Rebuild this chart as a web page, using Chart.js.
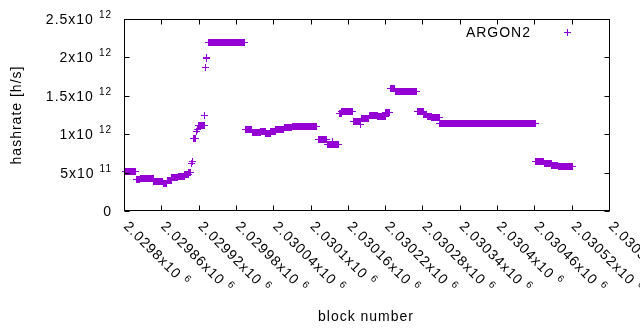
<!DOCTYPE html>
<html>
<head>
<meta charset="utf-8">
<script src="https://cdn.jsdelivr.net/npm/chart.js@4"></script>
<style>
  html, body { margin: 0; padding: 0; background: #fff; }
  #wrap { width: 640px; height: 330px; }
</style>
</head>
<body>
<div id="wrap"><canvas id="chart" width="640" height="330"></canvas></div>
<script>
// Runs of consecutive blocks that share one hashrate value
const runStart = [2029802, 2029820, 2029826, 2029848, 2029864, 2029870, 2029877, 2029887, 2029898, 2029904,
    2029912, 2029920, 2029936, 2029996, 2030006, 2030020, 2030028, 2030036, 2030044, 2030058,
    2030071, 2030112, 2030127, 2030146, 2030150, 2030169, 2030182, 2030195, 2030208, 2030221,
    2030229, 2030236, 2030272, 2030282, 2030288, 2030295, 2030308, 2030462, 2030476, 2030488,
    2030498, 2030508];
const runEnd = [2029818, 2029825, 2029847, 2029862, 2029869, 2029876, 2029886, 2029897, 2029903, 2029907,
    2029915, 2029929, 2029994, 2030005, 2030019, 2030027, 2030035, 2030043, 2030057, 2030070,
    2030110, 2030126, 2030145, 2030149, 2030168, 2030181, 2030194, 2030207, 2030220, 2030227,
    2030235, 2030271, 2030281, 2030287, 2030294, 2030307, 2030461, 2030475, 2030487, 2030497,
    2030507, 2030521];
const runRate = [5.2e11, 4.1e11, 4.25e11, 3.8e11, 3.55e11, 4.0e11, 4.38e11, 4.55e11, 4.8e11, 5.05e11,
    9.47e11, 1.11e12, 2.197e12, 1.06e12, 1.02e12, 1.037e12, 1.01e12, 1.03e12, 1.06e12, 1.09e12,
    1.104e12, 9.35e11, 8.7e11, 1.27e12, 1.295e12, 1.165e12, 1.2e12, 1.245e12, 1.228e12, 1.283e12,
    1.598e12, 1.558e12, 1.298e12, 1.26e12, 1.233e12, 1.218e12, 1.142e12, 6.42e11, 6.15e11, 5.9e11,
    5.73e11, 5.78e11];

// Lone points
const singleBlock = [2029908, 2029910, 2029917, 2029918, 2029930, 2029931, 2029932, 2029933, 2030135, 2030180];
const singleRate = [6.2e11, 6.5e11, 1.03e12, 1.06e12, 1.246e12, 1.87e12, 1.98e12, 2.0e12, 9.1e11, 1.12e12];

// Tick labels (gnuplot style, with superscript exponent)
const xTickValues = [2029800, 2029860, 2029920, 2029980, 2030040, 2030100, 2030160,
    2030220, 2030280, 2030340, 2030400, 2030460, 2030520, 2030580];
const xTickLabels = ['2.0298x10', '2.02986x10', '2.02992x10', '2.02998x10', '2.03004x10', '2.0301x10', '2.03016x10',
    '2.03022x10', '2.03028x10', '2.03034x10', '2.0304x10', '2.03046x10', '2.03052x10', '2.03058x10'];
const xTickExp = '6';
const yTickValues = [0, 5e11, 1e12, 1.5e12, 2e12, 2.5e12];
const yTickLabels = ['0', '5x10', '1x10', '1.5x10', '2x10', '2.5x10'];
const yTickExps = ['', '11', '12', '12', '12', '12'];

const seriesName = 'ARGON2';
const COLOR = '#9400d3';
const FONT = '14px "Liberation Sans", Arial, sans-serif';
const SUP_FONT = '10px "Liberation Sans", Arial, sans-serif';

// Build the per-block points
const points = [];
runStart.forEach((s, i) => {
    for (let b = s; b <= runEnd[i]; b++) points.push({ x: b, y: runRate[i] });
});
singleBlock.forEach((b, i) => points.push({ x: b, y: singleRate[i] }));

// Crisp gnuplot-like "+" marker
const plus = document.createElement('canvas');
plus.width = 7;
plus.height = 7;
const pc = plus.getContext('2d');
pc.fillStyle = COLOR;
pc.fillRect(3, 0, 1, 7);
pc.fillRect(0, 3, 7, 1);

const gnuplotFrame = {
    id: 'gnuplotFrame',
    beforeDatasetsDraw(chart) {
        chart.ctx.imageSmoothingEnabled = false;
    },
    afterDraw(chart) {
        const { ctx, scales: { x, y } } = chart;
        const L = Math.round(x.getPixelForValue(x.min)) + 0.5;
        const R = Math.round(x.getPixelForValue(x.max)) + 0.5;
        const T = Math.round(y.getPixelForValue(y.max)) + 0.5;
        const B = Math.round(y.getPixelForValue(y.min)) - 0.5;
        const tick = 5;

        ctx.save();
        ctx.strokeStyle = '#000';
        ctx.lineWidth = 1;
        ctx.strokeRect(L, T, R - L, B - T);

        ctx.beginPath();
        yTickValues.forEach(v => {
            const py = Math.round(y.getPixelForValue(v)) + 0.5;
            ctx.moveTo(L, py); ctx.lineTo(L + tick, py);
            ctx.moveTo(R, py); ctx.lineTo(R - tick, py);
        });
        xTickValues.forEach(v => {
            const px = Math.round(x.getPixelForValue(v)) + 0.5;
            ctx.moveTo(px, B); ctx.lineTo(px, B - tick);
            ctx.moveTo(px, T); ctx.lineTo(px, T + tick);
        });
        ctx.stroke();

        ctx.fillStyle = '#000';
        ctx.letterSpacing = '1px';
        ctx.textBaseline = 'alphabetic';

        // y tick labels, right aligned
        yTickValues.forEach((v, i) => {
            const py = y.getPixelForValue(v) + 5;
            const right = 112;
            ctx.font = SUP_FONT;
            const supW = yTickExps[i] ? ctx.measureText(yTickExps[i]).width : 0;
            ctx.font = FONT;
            const mainW = ctx.measureText(yTickLabels[i]).width;
            const gap = yTickExps[i] ? 5 : 0;
            const start = right - supW - gap - mainW;
            ctx.textAlign = 'left';
            ctx.fillText(yTickLabels[i], start, py);
            if (yTickExps[i]) {
                ctx.font = SUP_FONT;
                ctx.fillText(yTickExps[i], start + mainW + gap, py - 6);
            }
        });

        // x tick labels, rotated 45 degrees
        xTickValues.forEach((v, i) => {
            const px = x.getPixelForValue(v);
            ctx.save();
            ctx.translate(px - 1, 227);
            ctx.rotate(Math.PI / 4);
            ctx.font = FONT;
            ctx.textAlign = 'left';
            ctx.fillText(xTickLabels[i], 0, 0);
            const w = ctx.measureText(xTickLabels[i]).width;
            ctx.font = SUP_FONT;
            ctx.fillText(xTickExp, w + 5, -6);
            ctx.restore();
        });

        // axis titles
        ctx.font = FONT;
        ctx.textAlign = 'center';
        ctx.fillText('block number', 366, 321);
        ctx.save();
        ctx.translate(17, 115);
        ctx.rotate(-Math.PI / 2);
        ctx.textBaseline = 'middle';
        ctx.fillText('hashrate [h/s]', 0, 0);
        ctx.restore();

        // key
        ctx.textAlign = 'right';
        ctx.textBaseline = 'alphabetic';
        ctx.fillText(seriesName, 531, 37);
        ctx.imageSmoothingEnabled = false;
        ctx.drawImage(plus, 564, 29);
        ctx.restore();
    }
};

const chart = new Chart(document.getElementById('chart'), {
    type: 'scatter',
    data: {
        datasets: [{
            label: seriesName,
            data: points,
            pointStyle: plus,
            pointRadius: 3.5,
            borderColor: COLOR,
            backgroundColor: COLOR,
            clip: false
        }]
    },
    options: {
        responsive: false,
        animation: false,
        devicePixelRatio: 1,
        layout: { padding: { top: 19, right: 31, left: 0, bottom: 0 } },
        plugins: {
            legend: { display: false },
            tooltip: { enabled: false }
        },
        scales: {
            x: {
                type: 'linear',
                min: 2029800,
                max: 2030580,
                ticks: { display: false, stepSize: 60 },
                grid: { display: false },
                border: { display: false },
                afterFit: s => { s.height = 119; }
            },
            y: {
                min: 0,
                max: 2.5e12,
                ticks: { display: false, stepSize: 5e11 },
                grid: { display: false },
                border: { display: false },
                afterFit: s => { s.width = 124; }
            }
        }
    },
    plugins: [gnuplotFrame]
});
</script>
</body>
</html>
